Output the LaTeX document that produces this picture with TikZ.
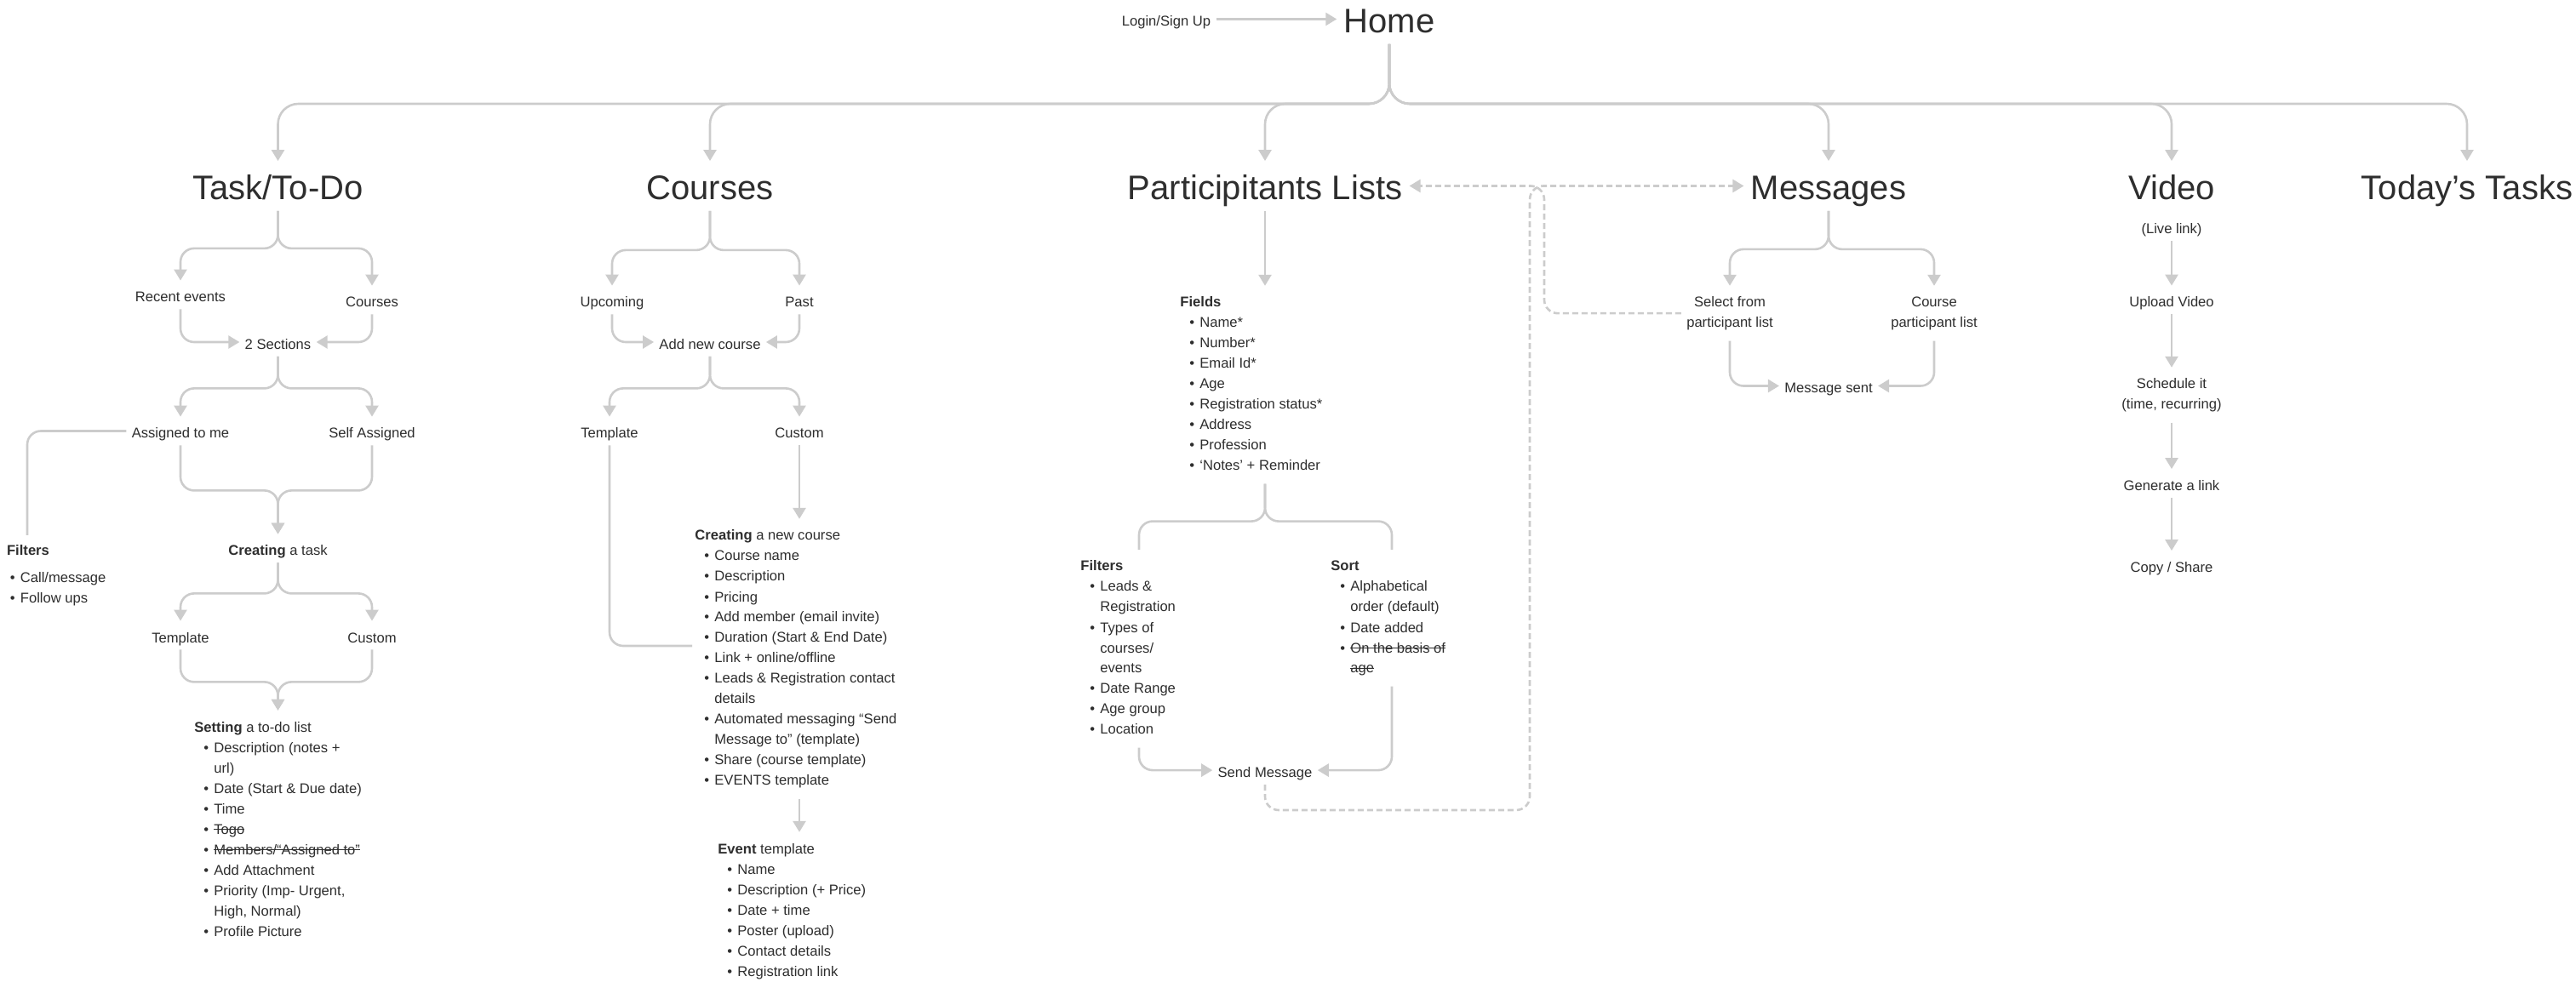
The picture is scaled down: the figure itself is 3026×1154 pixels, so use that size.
\documentclass[tikz,border=0pt]{standalone}
\usepackage{fontspec}
\setmainfont{Liberation Sans}
\usetikzlibrary{arrows.meta}
\definecolor{linegray}{HTML}{CCCCCC}
\definecolor{ink}{HTML}{2E2E2E}
\newsavebox{\strikebox}
\newcommand{\strike}[1]{\sbox{\strikebox}{#1}\rlap{\rule[2.6pt]{\wd\strikebox}{0.5pt}}\usebox{\strikebox}}
\newcommand{\bitem}[1][5.5pt]{\hspace*{#1}\makebox[6pt][l]{\textbullet}}
\newcommand{\bcont}{\hspace*{11.5pt}}
\newcommand{\blist}[1]{\begin{tabular}[t]{@{}l@{}}#1\end{tabular}}
\newcommand{\bpair}[1]{\begin{tabular}[t]{@{}c@{}}#1\end{tabular}}
\begin{document}
\begin{tikzpicture}[x=0.5pt,y=-0.5pt,
        head/.style={font=\fontsize{20}{24}\selectfont,text=ink,anchor=base,text height=21.75pt,text depth=5.25pt,inner ysep=1pt,inner xsep=4pt},
        lbl/.style={font=\fontsize{8.3}{12}\selectfont,text=ink,anchor=base,text height=10.5pt,text depth=2pt,inner ysep=2pt,inner xsep=3pt},
        lbl2/.style={font=\fontsize{8.3}{12}\selectfont,text=ink,anchor=base,inner ysep=4pt,inner xsep=3pt},
        blk/.style={font=\fontsize{8.3}{12}\selectfont,text=ink,anchor=base west,inner xsep=0pt,inner ysep=4pt},
        conn/.style={draw=linegray,line width=1.3pt,rounded corners=8pt,-{Triangle[length=6.5pt,width=7.5pt]}},
        bare/.style={draw=linegray,line width=1.3pt,rounded corners=8pt},
        dconn/.style={conn,dash pattern=on 3.5pt off 2pt}]
        \useasboundingbox[fill=white] (0,0) rectangle (3026,1154);
        \node[lbl] (login) at (1370,31) {Login/Sign Up};
        \node[head] (home) at (1632,39) {Home};
        \coordinate (bar) at (0,122);
        \node[head] (task) at (326.5,235) {Task/To-Do};
        \node[head] (courses) at (834,235) {Courses};
        \node[head] (parts) at (1486,235) {Participitants Lists};
        \node[head] (msgs) at (2148,235) {Messages};
        \node[head] (video) at (2551,235) {Video};
        \node[head] (today) at (2898,235) {Today’s Tasks};
        \draw[conn] (login.east) -- (home.west);
        \foreach \h in {task,courses,parts,msgs,video,today}
            \draw[conn,rounded corners=12pt] (home.south) -- (home.south |- bar) -| (\h.north);

        \node[lbl] (recent) at (212,355) {Recent events};
        \node[lbl] (tcourses) at (437,361) {Courses};
        \node[lbl] (sections) at (326.5,410.5) {2 Sections};
        \node[lbl] (assigned) at (212,515) {Assigned to me};
        \node[lbl] (selfass) at (437,515) {Self Assigned};
        \node[blk] (tfilt) at (7.7,653) {\blist{\textbf{Filters}\\[4pt]
            \bitem[1.9pt]Call/message\\
            \bitem[1.9pt]Follow ups}};
        \coordinate (tfilttop) at (32,629);
        \node[lbl] (ctask) at (326.5,653) {\textbf{Creating} a task};
        \node[lbl] (ttemplate) at (212,755) {Template};
        \node[lbl] (tcustom) at (437,755) {Custom};
        \node[blk] (setting) at (228,860) {\blist{\textbf{Setting} a to-do list\\
            \bitem Description (notes +\\
            \bcont url)\\
            \bitem Date (Start \& Due date)\\
            \bitem Time\\
            \bitem \strike{Togo}\\
            \bitem \strike{Members/“Assigned to”}\\
            \bitem Add Attachment\\
            \bitem Priority (Imp- Urgent,\\
            \bcont High, Normal)\\
            \bitem Profile Picture}};
        \draw[conn] (task.south) -- ++(0,44) -| (recent.north);
        \draw[conn] (task.south) -- ++(0,44) -| (tcourses.north);
        \draw[conn] (recent.south) |- (sections.west);
        \draw[conn] (tcourses.south) |- (sections.east);
        \draw[conn] (sections.south) -- ++(0,37.5) -| (assigned.north);
        \draw[conn] (sections.south) -- ++(0,37.5) -| (selfass.north);
        \draw[bare] (assigned.west) -| (tfilttop);
        \draw[conn] (assigned.south) -- ++(0,53) -| (ctask.north);
        \draw[conn] (selfass.south) -- ++(0,53) -| (ctask.north);
        \draw[conn] (ctask.south) -- ++(0,36) -| (ttemplate.north);
        \draw[conn] (ctask.south) -- ++(0,36) -| (tcustom.north);
        \draw[conn] (ttemplate.south) -- ++(0,38) -| (setting.north -| ctask.south);
        \draw[conn] (tcustom.south) -- ++(0,38) -| (setting.north -| ctask.south);

        \node[lbl] (upcoming) at (719,361) {Upcoming};
        \node[lbl] (past) at (939,361) {Past};
        \node[lbl] (addcourse) at (834,410.5) {Add new course};
        \node[lbl] (ctemplate) at (716,515) {Template};
        \node[lbl] (ccustom) at (939,515) {Custom};
        \node[blk] (ccreate) at (816,635) {\blist{\textbf{Creating} a new course\\
            \bitem Course name\\
            \bitem Description\\
            \bitem Pricing\\
            \bitem Add member (email invite)\\
            \bitem Duration (Start \& End Date)\\
            \bitem Link + online/offline\\
            \bitem Leads \& Registration contact\\
            \bcont details\\
            \bitem Automated messaging “Send\\
            \bcont Message to” (template)\\
            \bitem Share (course template)\\
            \bitem EVENTS template}};
        \coordinate (ctplend) at (813,759);
        \node[blk] (event) at (843,1003) {\blist{\textbf{Event} template\\
            \bitem Name\\
            \bitem Description (+ Price)\\
            \bitem Date + time\\
            \bitem Poster (upload)\\
            \bitem Contact details\\
            \bitem Registration link}};
        \draw[conn] (courses.south) -- ++(0,46) -| (upcoming.north);
        \draw[conn] (courses.south) -- ++(0,46) -| (past.north);
        \draw[conn] (upcoming.south) |- (addcourse.west);
        \draw[conn] (past.south) |- (addcourse.east);
        \draw[conn] (addcourse.south) -- ++(0,37.5) -| (ctemplate.north);
        \draw[conn] (addcourse.south) -- ++(0,37.5) -| (ccustom.north);
        \draw[bare] (ctemplate.south) |- (ctplend);
        \draw[conn] (ccustom.south) -- (ccustom.south |- ccreate.north);
        \draw[conn] (ccreate.south -| ccustom.south) -- (event.north -| ccustom.south);

        \node[blk] (fields) at (1386,361) {\blist{\textbf{Fields}\\
            \bitem Name*\\
            \bitem Number*\\
            \bitem Email Id*\\
            \bitem Age\\
            \bitem Registration status*\\
            \bitem Address\\
            \bitem Profession\\
            \bitem ‘Notes’ + Reminder}};
        \node[blk] (pfilt) at (1269,671) {\blist{\textbf{Filters}\\
            \bitem Leads \&\\
            \bcont Registration\\
            \bitem Types of\\
            \bcont courses/\\
            \bcont events\\
            \bitem Date Range\\
            \bitem Age group\\
            \bitem Location}};
        \node[blk] (sort) at (1563,671) {\blist{\textbf{Sort}\\
            \bitem Alphabetical\\
            \bcont order (default)\\
            \bitem Date added\\
            \bitem \strike{On the basis of}\\
            \bcont \strike{age}}};
        \node[lbl] (sendmsg) at (1486,913.6) {Send Message};
        \coordinate (pfiltx) at (1338,0);
        \coordinate (sortx) at (1635,0);
        \coordinate (loopa) at (1797,0);
        \coordinate (loopb) at (1814,0);
        \draw[conn] (parts.south) -- (parts.south |- fields.north);
        \draw[bare] (fields.south -| parts.south) -- ++(0,44) -| (pfilt.north -| pfiltx);
        \draw[bare] (fields.south -| parts.south) -- ++(0,44) -| (sort.north -| sortx);
        \draw[conn] (pfilt.south -| pfiltx) |- (sendmsg.west);
        \draw[conn] (sort.south -| sortx) |- (sendmsg.east);

        \node[lbl2] (selfrom) at (2032,361) {\bpair{Select from\\participant list}};
        \node[lbl2] (cpart) at (2272,361) {\bpair{Course\\participant list}};
        \node[lbl] (msgsent) at (2148,462) {Message sent};
        \draw[conn] (msgs.south) -- ++(0,45) -| (selfrom.north);
        \draw[conn] (msgs.south) -- ++(0,45) -| (cpart.north);
        \draw[conn] (selfrom.south) |- (msgsent.west);
        \draw[conn] (cpart.south) |- (msgsent.east);
        \draw[dconn] (sendmsg.south) -- ++(0,30) -| (msgs.west -| loopa) -- (msgs.west);
        \draw[dconn] (selfrom.west) -| (parts.east -| loopb) -- (parts.east);

        \node[lbl] (livelink) at (2551,275) {(Live link)};
        \node[lbl] (upload) at (2551,361) {Upload Video};
        \node[lbl2] (schedule) at (2551,457) {\bpair{Schedule it\\(time, recurring)}};
        \node[lbl] (generate) at (2551,576.5) {Generate a link};
        \node[lbl] (copyshare) at (2551,672.5) {Copy / Share};
        \draw[conn] (livelink.south) -- (upload.north);
        \draw[conn] (upload.south) -- (schedule.north);
        \draw[conn] (schedule.south) -- (generate.north);
        \draw[conn] (generate.south) -- (copyshare.north);
\end{tikzpicture}
\end{document}
